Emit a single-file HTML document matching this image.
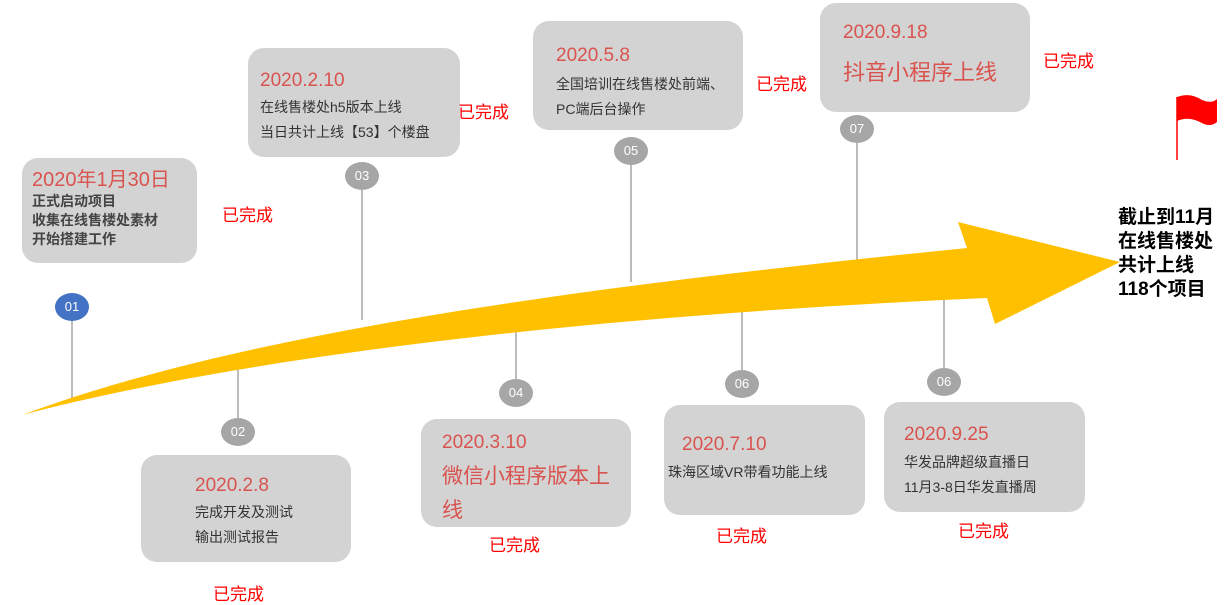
<!DOCTYPE html>
<html><head><meta charset="utf-8"><style>
body{margin:0;width:1229px;height:603px;background:#fff;position:relative;overflow:hidden;font-family:"Liberation Sans","Noto Sans CJK SC",sans-serif}
.b{position:absolute;background:#d3d3d3;border-radius:16px;box-sizing:border-box}
.t{position:absolute;color:#d9534f;font-size:19px;white-space:nowrap}
.s{position:absolute;color:#333;font-size:14px;line-height:25px;white-space:nowrap}
.d{position:absolute;color:#f00;font-size:17px;white-space:nowrap}
.c{position:absolute;width:34px;height:28px;border-radius:50%;background:#a6a6a6;color:#fff;font-size:13px;text-align:center;line-height:28px}
</style></head><body>
<svg width="1229" height="603" style="position:absolute;left:0;top:0">
<g stroke="#a6a6a6" stroke-width="1.5">
<line x1="72" y1="320" x2="72" y2="398"/><line x1="362" y1="190" x2="362" y2="320"/>
<line x1="631" y1="165" x2="631" y2="282"/><line x1="857" y1="143" x2="857" y2="262"/>
<line x1="238" y1="365" x2="238" y2="418"/><line x1="516" y1="328" x2="516" y2="379"/>
<line x1="742" y1="310" x2="742" y2="370"/><line x1="944" y1="298" x2="944" y2="368"/>
</g>
<path d="M22,415 C250,330 600,285 967,248 L958,222 L1120,262 L995,324 L987,298 C600,315 250,355 22,415 Z" fill="#ffc000"/>
<line x1="1177" y1="97" x2="1177" y2="160" stroke="#f00" stroke-width="1.5"/>
<path d="M1177,97 Q1190,92 1202,100 Q1212,104 1217,99 L1217,122 Q1210,128 1200,122 Q1188,116 1177,121 Z" fill="#f00"/>
</svg>
<div class="b" style="left:22px;top:158px;width:175px;height:105px"></div>
<div class="t" style="left:32px;top:168px;font-size:20px;line-height:24px">2020年1月30日</div>
<div class="s" style="left:32px;top:192px;line-height:19px;font-weight:bold;color:#444">正式启动项目<br>收集在线售楼处素材<br>开始搭建工作</div>
<div class="d" style="left:222px;top:201px">已完成</div>

<div class="b" style="left:248px;top:48px;width:212px;height:109px"></div>
<div class="t" style="left:260px;top:70px">2020.2.10</div>
<div class="s" style="left:260px;top:95px">在线售楼处h5版本上线<br>当日共计上线【53】个楼盘</div>
<div class="d" style="left:458px;top:98px">已完成</div>

<div class="b" style="left:533px;top:21px;width:210px;height:109px"></div>
<div class="t" style="left:556px;top:45px">2020.5.8</div>
<div class="s" style="left:556px;top:72px">全国培训在线售楼处前端、<br>PC端后台操作</div>
<div class="d" style="left:756px;top:70px">已完成</div>

<div class="b" style="left:820px;top:3px;width:210px;height:109px"></div>
<div class="t" style="left:843px;top:22px">2020.9.18</div>
<div class="t" style="left:843px;top:55px;font-size:22px">抖音小程序上线</div>
<div class="d" style="left:1043px;top:47px">已完成</div>

<div class="b" style="left:141px;top:455px;width:210px;height:107px"></div>
<div class="t" style="left:195px;top:475px">2020.2.8</div>
<div class="s" style="left:195px;top:500px">完成开发及测试<br>输出测试报告</div>
<div class="d" style="left:213px;top:580px">已完成</div>

<div class="b" style="left:421px;top:419px;width:210px;height:108px"></div>
<div class="t" style="left:442px;top:432px">2020.3.10</div>
<div class="t" style="left:442px;top:460px;font-size:21px;line-height:34px;white-space:normal;width:180px">微信小程序版本上线</div>
<div class="d" style="left:489px;top:531px">已完成</div>

<div class="b" style="left:664px;top:405px;width:201px;height:110px"></div>
<div class="t" style="left:682px;top:434px">2020.7.10</div>
<div class="s" style="left:668px;top:460px">珠海区域VR带看功能上线</div>
<div class="d" style="left:716px;top:522px">已完成</div>

<div class="b" style="left:884px;top:402px;width:201px;height:110px"></div>
<div class="t" style="left:904px;top:424px">2020.9.25</div>
<div class="s" style="left:904px;top:450px">华发品牌超级直播日<br>11月3-8日华发直播周</div>
<div class="d" style="left:958px;top:517px">已完成</div>

<div class="c" style="left:55px;top:293px;background:#4472c4">01</div>
<div class="c" style="left:345px;top:162px">03</div>
<div class="c" style="left:614px;top:137px">05</div>
<div class="c" style="left:840px;top:115px">07</div>
<div class="c" style="left:221px;top:418px">02</div>
<div class="c" style="left:499px;top:379px">04</div>
<div class="c" style="left:725px;top:370px">06</div>
<div class="c" style="left:927px;top:368px">06</div>

<div style="position:absolute;left:1118px;top:206px;font-size:19px;font-weight:bold;line-height:24px;color:#000;white-space:nowrap">截止到11月<br>在线售楼处<br>共计上线<br>118个项目</div>
</body></html>
